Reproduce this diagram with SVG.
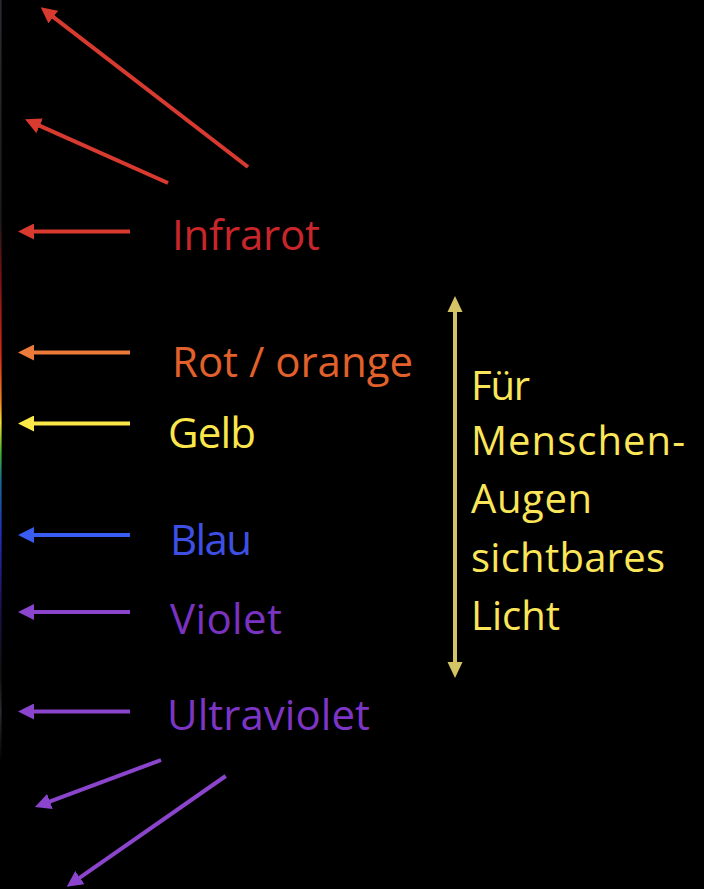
<svg xmlns="http://www.w3.org/2000/svg" width="704" height="889" viewBox="0 0 704 889">
  <defs>
    <style>
      .lbl { font-family: "Open Sans", "Noto Sans", "Liberation Sans", sans-serif; font-size: 42px; }
      .side { font-family: "Open Sans", "Noto Sans", "Liberation Sans", sans-serif; font-size: 40px; fill: #fbe65a; }
      .ray { stroke-width: 4; fill: none; }
    </style>
    <!-- spectrum strip along the left edge -->
    <linearGradient id="spectrum" x1="0" y1="0" x2="0" y2="889" gradientUnits="userSpaceOnUse">
      <stop offset="0" stop-color="#2a2a33"/>
      <stop offset="0.25" stop-color="#1a1a1a"/>
      <stop offset="0.31" stop-color="#7a1010"/>
      <stop offset="0.40" stop-color="#d42a1a"/>
      <stop offset="0.45" stop-color="#f08020"/>
      <stop offset="0.475" stop-color="#f4e030"/>
      <stop offset="0.51" stop-color="#40b030"/>
      <stop offset="0.54" stop-color="#1a6a90"/>
      <stop offset="0.60" stop-color="#2030c0"/>
      <stop offset="0.68" stop-color="#201050"/>
      <stop offset="0.76" stop-color="#101010"/>
      <stop offset="0.80" stop-color="#2a2a33"/>
      <stop offset="0.86" stop-color="#000"/>
    </linearGradient>
    <marker id="hRed" viewBox="0 0 16 16" markerWidth="16" markerHeight="16" markerUnits="userSpaceOnUse" refX="4" refY="8" orient="auto"><path d="M0,0 L16,8 L0,16 Z" fill="#d93a2f"/></marker>
    <marker id="hOrange" viewBox="0 0 16 16" markerWidth="16" markerHeight="16" markerUnits="userSpaceOnUse" refX="4" refY="8" orient="auto"><path d="M0,0 L16,8 L0,16 Z" fill="#ec7a3a"/></marker>
    <marker id="hYellow" viewBox="0 0 16 16" markerWidth="16" markerHeight="16" markerUnits="userSpaceOnUse" refX="4" refY="8" orient="auto"><path d="M0,0 L16,8 L0,16 Z" fill="#fde84a"/></marker>
    <marker id="hBlue" viewBox="0 0 16 16" markerWidth="16" markerHeight="16" markerUnits="userSpaceOnUse" refX="4" refY="8" orient="auto"><path d="M0,0 L16,8 L0,16 Z" fill="#3b5cf0"/></marker>
    <marker id="hPurple" viewBox="0 0 16 16" markerWidth="16" markerHeight="16" markerUnits="userSpaceOnUse" refX="4" refY="8" orient="auto"><path d="M0,0 L16,8 L0,16 Z" fill="#8a45cc"/></marker>
    <marker id="hKhaki" viewBox="0 0 16 16" markerWidth="16" markerHeight="16" markerUnits="userSpaceOnUse" refX="4" refY="8" orient="auto-start-reverse"><path d="M0,0.5 L16,8 L0,15.5 Z" fill="#d4c466"/></marker>
  </defs>

  <rect width="704" height="889" fill="#000"/>
  <rect x="0" y="0" width="1.6" height="889" fill="url(#spectrum)"/>

  <g id="connectors">
    <line class="ray" x1="248" y1="167" x2="50.2" y2="14.6" stroke="#d93a2f" marker-end="url(#hRed)"/>
    <line class="ray" x1="168" y1="183" x2="36" y2="124.2" stroke="#d93a2f" marker-end="url(#hRed)"/>
    <line class="ray" x1="130" y1="231.5" x2="30" y2="231.5" stroke="#d93a2f" marker-end="url(#hRed)"/>
    <line class="ray" x1="130" y1="352.5" x2="30" y2="352.5" stroke="#ec7a3a" marker-end="url(#hOrange)"/>
    <line class="ray" x1="130" y1="423.5" x2="30" y2="423.5" stroke="#fde84a" marker-end="url(#hYellow)"/>
    <line class="ray" x1="130" y1="535" x2="30" y2="535" stroke="#3b5cf0" marker-end="url(#hBlue)"/>
    <line class="ray" x1="130" y1="612" x2="30" y2="612" stroke="#8a45cc" marker-end="url(#hPurple)"/>
    <line class="ray" x1="130" y1="711.5" x2="30" y2="711.5" stroke="#8a45cc" marker-end="url(#hPurple)"/>
    <line class="ray" x1="161" y1="760" x2="46.2" y2="802.8" stroke="#8a45cc" marker-end="url(#hPurple)"/>
    <line class="ray" x1="225.7" y1="776" x2="76.6" y2="879.8" stroke="#8a45cc" marker-end="url(#hPurple)"/>
    <line class="ray" x1="455" y1="308" x2="455" y2="666" stroke="#d4c466" marker-start="url(#hKhaki)" marker-end="url(#hKhaki)"/>
  </g>

  <g id="infrarot"><text class="lbl" x="172" y="250" fill="#c8262b" textLength="148">Infrarot</text></g>
  <g id="rot-orange"><text class="lbl" x="172" y="377" fill="#e1602b" textLength="241">Rot / orange</text></g>
  <g id="gelb"><text class="lbl" x="168" y="448" fill="#fbe64b" textLength="88">Gelb</text></g>
  <g id="blau"><text class="lbl" x="170" y="555" fill="#3e50e4" textLength="82">Blau</text></g>
  <g id="violet"><text class="lbl" x="170" y="634" fill="#7a32c0" textLength="112">Violet</text></g>
  <g id="ultraviolet"><text class="lbl" x="167" y="730" fill="#7c35c4" textLength="203">Ultraviolet</text></g>

  <g id="sichtbar">
    <text class="side" x="471" y="400" textLength="59">Für</text>
    <text class="side" x="471" y="455" textLength="214">Menschen-</text>
    <text class="side" x="471" y="513" textLength="121">Augen</text>
    <text class="side" x="471" y="572" textLength="194">sichtbares</text>
    <text class="side" x="471" y="630" textLength="89">Licht</text>
  </g>
</svg>
